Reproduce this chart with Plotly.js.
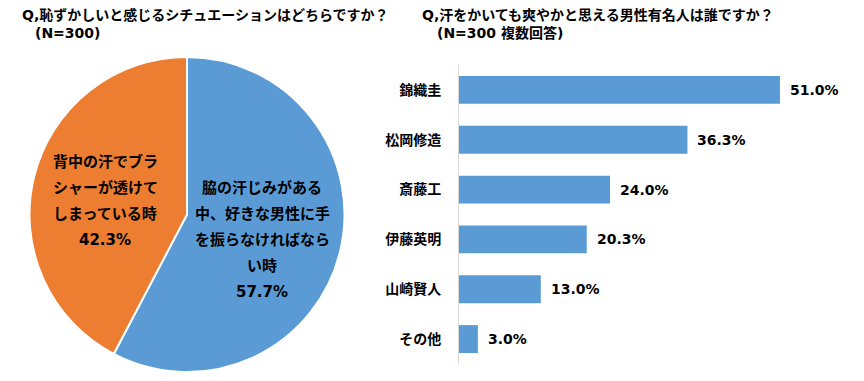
<!DOCTYPE html>
<html>
<head>
<meta charset="utf-8">
<script src="https://cdn.plot.ly/plotly-3.0.1.min.js"></script>
<style>html,body{margin:0;padding:0;background:#fff;}#chart{width:864px;height:381px;}</style>
</head>
<body>
<div id="chart"></div>
<script>
// ---- data ----
const pieLabels = ['脇の汗じみがある中、好きな男性に手を振らなければならい時', '背中の汗でブラシャーが透けてしまっている時'];
const pieValues = [57.7, 42.3];
const pieLabelLines = [
  ['脇の汗じみがある', '中、好きな男性に手', 'を振らなければなら', 'い時'],
  ['背中の汗でブラ', 'シャーが透けて', 'しまっている時']
];
const barCategories = ['錦織圭', '松岡修造', '斎藤工', '伊藤英明', '山崎賢人', 'その他'];
const barValues = [51.0, 36.3, 24.0, 20.3, 13.0, 3.0];
const leftTitle = ['Q,恥ずかしいと感じるシチュエーションはどちらですか？', '(N=300)'];
const rightTitle = ['Q,汗をかいても爽やかと思える男性有名人は誰ですか？', '(N=300 複数回答)'];

// ---- layout helpers ----
const W = 864, H = 381;
const px = x => x / W;
const py = y => 1 - y / H;
const FONT = "'DejaVu Sans', 'Noto Sans CJK JP', sans-serif";
const fmt = v => v.toFixed(1) + '%';

const annotations = [];
function addText(text, x, y, size, anchor) {
  annotations.push({
    xref: 'paper', yref: 'paper', x: px(x), y: py(y), text: '<b>' + text + '</b>',
    showarrow: false, xanchor: anchor, yanchor: 'middle',
    font: {family: FONT, size: size, color: '#000'}
  });
}
// titles
addText(leftTitle[0], 20, 15, 14, 'left');
addText(leftTitle[1], 33, 33, 14, 'left');
addText(rightTitle[0], 420, 15, 14, 'left');
addText(rightTitle[1], 435, 33, 14, 'left');

// pie labels
const pieLabelPos = [{x: 262, y: 188}, {x: 105, y: 162}];
pieLabelLines.forEach((lines, i) => {
  const all = lines.concat([fmt(pieValues[i])]);
  all.forEach((t, j) => addText(t, pieLabelPos[i].x, pieLabelPos[i].y + j * 26, 15, 'center'));
});

// bar value labels
barCategories.forEach((c, i) => {
  annotations.push({
    xref: 'x', yref: 'y', x: barValues[i], y: c, text: '<b>' + fmt(barValues[i]) + '</b>',
    showarrow: false, xanchor: 'left', yanchor: 'middle', xshift: 8,
    font: {family: FONT, size: 14, color: '#000'}
  });
});

const data = [
  {
    type: 'pie', labels: pieLabels, values: pieValues, sort: false,
    direction: 'clockwise', rotation: 0,
    marker: {colors: ['#5B9BD5', '#ED7D31'], line: {color: '#fff', width: 2}},
    textinfo: 'none', hoverinfo: 'none', showlegend: false,
    domain: {x: [px(29), px(345)], y: [py(372), py(57)]}
  },
  {
    type: 'bar', orientation: 'h', x: barValues, y: barCategories,
    marker: {color: '#5B9BD5'}, hoverinfo: 'none', showlegend: false,
    xaxis: 'x', yaxis: 'y'
  }
];

const layout = {
  width: W, height: H,
  margin: {l: 0, r: 0, t: 0, b: 0},
  paper_bgcolor: '#fff', plot_bgcolor: '#fff',
  bargap: 0.44,
  xaxis: {
    domain: [px(459), px(836.6)], range: [0, 60],
    showgrid: false, zeroline: false, showline: false, showticklabels: false, ticks: ''
  },
  yaxis: {
    domain: [py(364), py(65)], autorange: 'reversed', type: 'category',
    showgrid: false, zeroline: false,
    showline: true, linecolor: '#D9D9D9', linewidth: 1,
    ticks: '', ticklabelstandoff: 14,
    tickfont: {family: FONT, size: 14, color: '#000', weight: 'bold'}
  },
  annotations: annotations
};

Plotly.newPlot('chart', data, layout, {displayModeBar: false, staticPlot: true});
</script>
</body>
</html>
